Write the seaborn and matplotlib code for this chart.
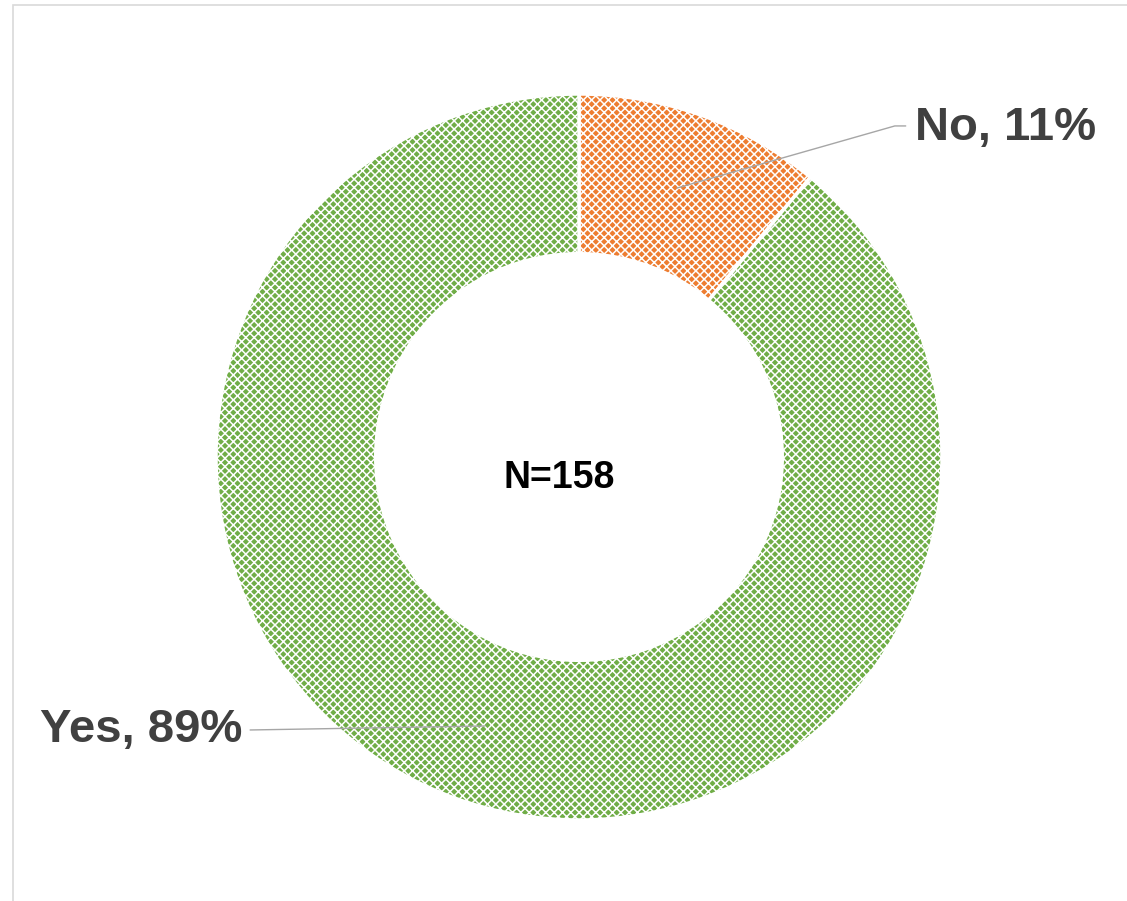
import numpy as np
import matplotlib
matplotlib.use("Agg")
import matplotlib.pyplot as plt
import seaborn as sns
from matplotlib.patches import Rectangle

# data
labels = ["No", "Yes"]
shares = [11, 89]
colors = ["#ED7D31", "#70AD47"]
n_total = 158

sns.set_theme(style="white")
plt.rcParams["font.family"] = ["Liberation Sans", "DejaVu Sans"]
plt.rcParams["hatch.linewidth"] = 1.1

fig = plt.figure(figsize=(11.27, 9.01), dpi=100)
ax = fig.add_axes([0, 0, 1, 1])

wedges, _ = ax.pie(
    shares,
    colors=colors,
    startangle=90,
    counterclock=False,
    radius=1.0,
    wedgeprops=dict(width=0.44, edgecolor="white", linewidth=2.5, hatch="xxxx"),
)

# center pixel (579, 457), radius 363 px
ax.set_aspect("auto")
ax.set_xlim(-579 / 363, (1127 - 579) / 363)
ax.set_ylim(-(901 - 457) / 363, 457 / 363)
ax.axis("off")

ax.text(-0.055, -0.058, f"N={n_total}", ha="center", va="center",
        fontsize=27, fontweight="bold", color="black")

# leader lines + labels
ax.plot([0.27, 0.87, 0.90], [0.741, 0.912, 0.912], color="#a6a6a6", lw=1)
ax.text(0.926, 0.905, f"{labels[0]}, {shares[0]}%", ha="left", va="center",
        fontsize=34, fontweight="bold", color="#404040")

ax.plot([-0.259, -0.906], [-0.741, -0.752], color="#a6a6a6", lw=1)
ax.text(-0.928, -0.752, f"{labels[1]}, {shares[1]}%", ha="right", va="center",
        fontsize=34, fontweight="bold", color="#404040")

# light frame around chart area
fig.add_artist(Rectangle((13 / 1127, -0.05), 1.2, 1 - 5 / 901 + 0.05,
                         transform=fig.transFigure, fill=False,
                         edgecolor="#d9d9d9", lw=1.2))

fig.savefig("out.png", dpi=100)
